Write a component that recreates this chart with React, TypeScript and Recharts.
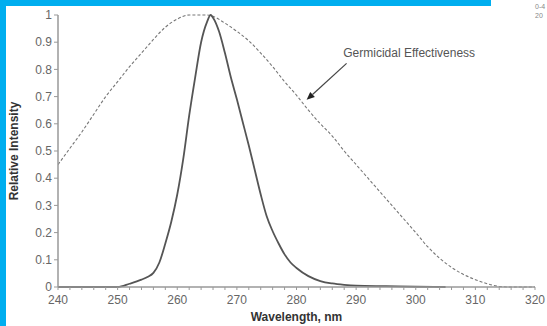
import { LineChart, Line, XAxis, YAxis, ReferenceLine, ReferenceDot } from "recharts";

// lamp emission spectrum (solid)
const spectrumWl = [240, 245, 250, 252, 254, 255, 256, 257, 258, 259, 260, 261, 262, 263, 264, 265, 265.6, 266, 267, 268, 269, 270, 271, 272, 273, 274, 275, 276, 277, 278, 279, 280, 282, 284, 286, 288, 290, 295, 300, 305];
const spectrumVal = [0, 0, 0, 0.012, 0.027, 0.037, 0.052, 0.09, 0.16, 0.24, 0.34, 0.47, 0.63, 0.77, 0.9, 0.975, 1.0, 0.99, 0.94, 0.86, 0.77, 0.69, 0.605, 0.52, 0.43, 0.34, 0.26, 0.205, 0.16, 0.12, 0.09, 0.07, 0.04, 0.022, 0.013, 0.008, 0.005, 0.003, 0.001, 0];

// germicidal effectiveness curve (dashed)
const germWl = [240, 242, 244, 246, 248, 250, 252, 254, 256, 258, 260, 262, 265, 266, 268, 270, 272, 274, 276, 278, 280, 282, 284, 286, 288, 290, 292, 294, 296, 298, 300, 302, 304, 306, 308, 310, 312, 314, 316, 318, 320];
const germVal = [0.45, 0.51, 0.57, 0.635, 0.7, 0.755, 0.81, 0.86, 0.91, 0.955, 0.985, 1.0, 1.0, 0.995, 0.97, 0.94, 0.905, 0.86, 0.81, 0.755, 0.705, 0.65, 0.6, 0.555, 0.5, 0.45, 0.4, 0.35, 0.3, 0.25, 0.2, 0.148, 0.106, 0.072, 0.046, 0.027, 0.012, 0.002, 0, 0, 0];

const xTicks = [240, 242, 244, 246, 248, 250, 252, 254, 256, 258, 260, 262, 264, 266, 268, 270, 272, 274, 276, 278, 280, 282, 284, 286, 288, 290, 292, 294, 296, 298, 300, 302, 304, 306, 308, 310, 312, 314, 316, 318, 320];
const yTicks = [0, 0.1, 0.2, 0.3, 0.4, 0.5, 0.6, 0.7, 0.8, 0.9, 1];

const spectrum = spectrumWl.map((wl, i) => ({ wl, v: spectrumVal[i] }));
const germicidal = germWl.map((wl, i) => ({ wl, v: germVal[i] }));

const FONT = "'Liberation Sans', Arial, sans-serif";
const CYAN = "#00aeef";

const Arrow = (props: any) => {
  const { x1, y1, x2, y2 } = props;
  const a = Math.atan2(y2 - y1, x2 - x1);
  const len = 8;
  const w = 3.5;
  const bx = x2 - len * Math.cos(a);
  const by = y2 - len * Math.sin(a);
  const px = -Math.sin(a) * w;
  const py = Math.cos(a) * w;
  return (
    <g>
      <line x1={x1} y1={y1} x2={bx} y2={by} stroke="#444" strokeWidth={1.2} />
      <polygon points={`${x2},${y2} ${bx + px},${by + py} ${bx - px},${by - py}`} fill="#222" />
    </g>
  );
};

export default function App() {
  return (
    <div style={{ position: "fixed", left: 0, top: 0, width: 547, height: 326, background: "#fff", fontFamily: FONT }}>
      <div style={{ position: "absolute", left: 0, top: 0, width: 491, height: 6, background: CYAN }} />
      <div style={{ position: "absolute", left: 0, top: 0, width: 6, height: 326, background: CYAN }} />
      <div style={{ position: "absolute", left: 535, top: 2, fontSize: 7, lineHeight: "9px", color: "#888" }}>
        0-4
        <br />
        20
      </div>
      <div style={{ position: "absolute", left: 0, top: 0 }}>
        <LineChart width={547} height={326} margin={{ top: 15, right: 12, left: 0, bottom: 0 }}>
          <XAxis
            type="number"
            dataKey="wl"
            domain={[240, 320]}
            ticks={xTicks}
            interval={0}
            allowDataOverflow
            tickFormatter={(t) => (t % 10 === 0 ? String(t) : "")}
            tick={{ fill: "#666", fontSize: 12, fontFamily: FONT }}
            tickSize={3}
            tickMargin={5}
            height={39}
            axisLine={{ stroke: "#999", strokeWidth: 1.5 }}
            tickLine={{ stroke: "#999" }}
            label={{
              content: ({ viewBox }: any) => (
                <text
                  x={viewBox.x + viewBox.width / 2}
                  y={viewBox.y + 31}
                  textAnchor="middle"
                  dominantBaseline="middle"
                  fontSize={12}
                  fontWeight="bold"
                  fill="#333"
                  fontFamily={FONT}
                >
                  Wavelength, nm
                </text>
              ),
            }}
          />
          <YAxis
            type="number"
            domain={[0, 1]}
            ticks={yTicks}
            interval={0}
            width={58}
            tick={{ fill: "#666", fontSize: 12, fontFamily: FONT }}
            tickSize={4}
            tickMargin={2}
            axisLine={{ stroke: "#999", strokeWidth: 1.5 }}
            tickLine={{ stroke: "#999" }}
            label={{
              content: ({ viewBox }: any) => (
                <text
                  x={viewBox.x + 15}
                  y={viewBox.y + viewBox.height / 2}
                  textAnchor="middle"
                  dominantBaseline="middle"
                  fontSize={12}
                  fontWeight="bold"
                  fill="#333"
                  fontFamily={FONT}
                  transform={`rotate(-90 ${viewBox.x + 15} ${viewBox.y + viewBox.height / 2})`}
                >
                  Relative Intensity
                </text>
              ),
            }}
          />
          <Line
            data={germicidal}
            dataKey="v"
            type="monotone"
            stroke="#777"
            strokeWidth={1.1}
            strokeDasharray="3 2"
            dot={false}
            isAnimationActive={false}
          />
          <Line
            data={spectrum}
            dataKey="v"
            type="monotone"
            stroke="#555"
            strokeWidth={1.8}
            dot={false}
            isAnimationActive={false}
          />
          <ReferenceLine
            segment={[
              { x: 288.4, y: 0.822 },
              { x: 281.7, y: 0.688 },
            ]}
            shape={Arrow}
          />
          <ReferenceDot
            x={298.9}
            y={0.86}
            r={0}
            fill="none"
            stroke="none"
            label={{ value: "Germicidal Effectiveness", position: "center", fontSize: 12, fill: "#555", fontFamily: FONT }}
          />
        </LineChart>
      </div>
    </div>
  );
}
